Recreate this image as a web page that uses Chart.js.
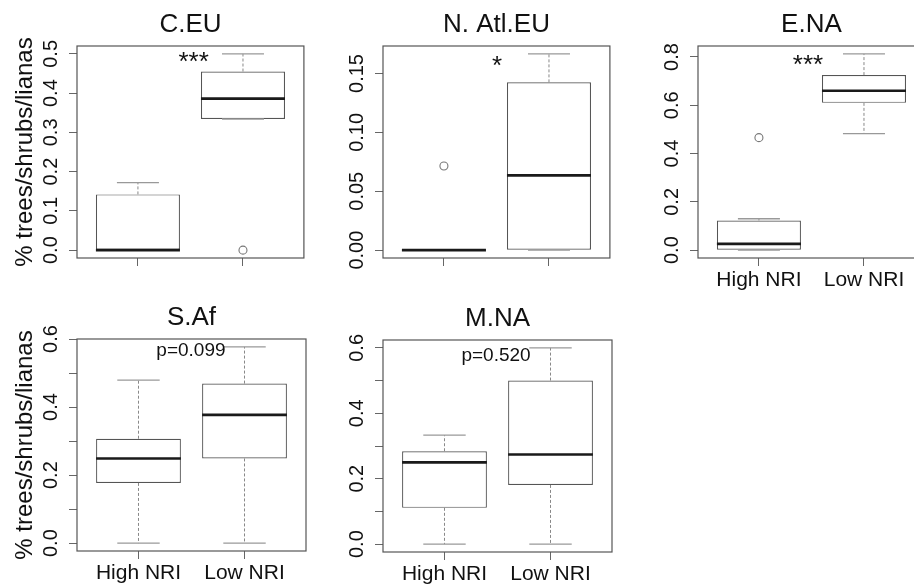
<!DOCTYPE html>
<html>
<head>
<meta charset="utf-8">
<script src="https://cdn.jsdelivr.net/npm/chart.js@4.4.1/dist/chart.umd.min.js"></script>
<style>
  html, body { margin: 0; padding: 0; background: #fff; overflow: hidden; }
  body { width: 914px; height: 586px; position: relative; }
  canvas { position: absolute; }
</style>
</head>
<body>
<canvas id="p1"></canvas>
<canvas id="p2"></canvas>
<canvas id="p3"></canvas>
<canvas id="p4"></canvas>
<canvas id="p5"></canvas>
<script>
// groups on the x axis
const groups = ['High NRI', 'Low NRI'];
const yAxisTitle = '% trees/shrubs/lianas';

// box stats per group: [lower whisker, Q1, median, Q3, upper whisker]
const ceuHigh = [0, 0, 0, 0.142, 0.172];
const ceuLow = [0.334, 0.334, 0.386, 0.455, 0.5];
const ceuOutliers = [[], [0]];

const natHigh = [0, 0, 0, 0, 0];
const natLow = [0, 0, 0.0635, 0.1425, 0.1667];
const natOutliers = [[0.0714], []];

const enaHigh = [0, 0, 0.026, 0.123, 0.130];
const enaLow = [0.483, 0.610, 0.660, 0.725, 0.813];
const enaOutliers = [[0.466], []];

const safHigh = [0, 0.177, 0.249, 0.307, 0.479];
const safLow = [0, 0.249, 0.377, 0.469, 0.577];
const safOutliers = [[], []];

const mnaHigh = [0, 0.111, 0.250, 0.284, 0.333];
const mnaLow = [0, 0.181, 0.274, 0.500, 0.600];
const mnaOutliers = [[], []];

// y ticks and their labels ('' = tick mark only)
const ceuTicks = [0, 0.1, 0.2, 0.3, 0.4, 0.5];
const ceuTickLabels = ['0.0', '0.1', '0.2', '0.3', '0.4', '0.5'];
const natTicks = [0, 0.05, 0.10, 0.15];
const natTickLabels = ['0.00', '0.05', '0.10', '0.15'];
const enaTicks = [0, 0.2, 0.4, 0.6, 0.8];
const enaTickLabels = ['0.0', '0.2', '0.4', '0.6', '0.8'];
const sixTicks = [0, 0.1, 0.2, 0.3, 0.4, 0.5, 0.6];
const sixTickLabels = ['0.0', '', '0.2', '', '0.4', '', '0.6'];

const FONT = "'Liberation Sans', Arial, Helvetica, sans-serif";
const AXIS_W = 77, TITLE_H = 46, X_H = 36, PLOT_W = 229, PLOT_H = 212, RIGHT_PAD = 3;
const BOX = 0.8, CAP = 0.4;

const panels = [
  { id: 'p1', title: 'C.EU', left: 77, top: 46, stats: [ceuHigh, ceuLow], outliers: ceuOutliers,
    yTicks: ceuTicks, yLabels: ceuTickLabels, xLabels: false, yTitle: true,
    note: '***', noteX: 1.53, noteY: 0.478, noteSize: 26 },
  { id: 'p2', title: 'N. Atl.EU', left: 383, top: 46, stats: [natHigh, natLow], outliers: natOutliers,
    yTicks: natTicks, yLabels: natTickLabels, xLabels: false, yTitle: false,
    note: '*', noteX: 1.505, noteY: 0.156, noteSize: 26 },
  { id: 'p3', title: 'E.NA', left: 698, top: 46, stats: [enaHigh, enaLow], outliers: enaOutliers,
    yTicks: enaTicks, yLabels: enaTickLabels, xLabels: true, yTitle: false,
    note: '***', noteX: 1.467, noteY: 0.765, noteSize: 26 },
  { id: 'p4', title: 'S.Af', left: 77, top: 339, stats: [safHigh, safLow], outliers: safOutliers,
    yTicks: sixTicks, yLabels: sixTickLabels, xLabels: true, yTitle: true,
    note: 'p=0.099', noteX: 1.495, noteY: 0.565, noteSize: 19 },
  { id: 'p5', title: 'M.NA', left: 383, top: 340, stats: [mnaHigh, mnaLow], outliers: mnaOutliers,
    yTicks: sixTicks, yLabels: sixTickLabels, xLabels: true, yTitle: false,
    note: 'p=0.520', noteX: 1.486, noteY: 0.576, noteSize: 19 }
];

// frame, rotated y tick labels and the significance note
const panelDecor = {
  id: 'panelDecor',
  afterDraw(chart, args, opts) {
    const { ctx, chartArea: a, scales: { x, y } } = chart;
    const cfg = opts.cfg;
    ctx.save();
    ctx.strokeStyle = '#555';
    ctx.lineWidth = 1.2;
    ctx.strokeRect(a.left, a.top, a.right - a.left, a.bottom - a.top);

    ctx.fillStyle = '#111';
    ctx.font = '20px ' + FONT;
    ctx.textAlign = 'center';
    ctx.textBaseline = 'alphabetic';
    cfg.yTicks.forEach((v, i) => {
      if (!cfg.yLabels[i]) return;
      ctx.save();
      ctx.translate(a.left - 20, y.getPixelForValue(v));
      ctx.rotate(-Math.PI / 2);
      ctx.fillText(cfg.yLabels[i], 0, 0);
      ctx.restore();
    });

    ctx.font = cfg.noteSize + 'px ' + FONT;
    ctx.textBaseline = 'middle';
    ctx.fillText(cfg.note, x.getPixelForValue(cfg.noteX), y.getPixelForValue(cfg.noteY));
    ctx.restore();
  }
};

function makePanel(cfg) {
  const canvas = document.getElementById(cfg.id);
  canvas.width = AXIS_W + PLOT_W + RIGHT_PAD;
  canvas.height = TITLE_H + PLOT_H + X_H;
  canvas.style.left = (cfg.left - AXIS_W) + 'px';
  canvas.style.top = (cfg.top - TITLE_H) + 'px';

  const all = cfg.stats.flat().concat(cfg.outliers.flat());
  const lo = Math.min(...all), hi = Math.max(...all);
  const pad = (hi - lo) * 0.04;

  const boxes = [], medians = [], whiskers = [], caps = [], outs = [];
  cfg.stats.forEach((s, i) => {
    const c = i + 1;
    boxes.push({ x: c, y: [s[1], s[3]] });
    medians.push({ x: c - BOX / 2, y: s[2] }, { x: c + BOX / 2, y: s[2] }, { x: c, y: null });
    whiskers.push({ x: c, y: s[3] }, { x: c, y: s[4] }, { x: c, y: null },
                  { x: c, y: s[1] }, { x: c, y: s[0] }, { x: c, y: null });
    caps.push({ x: c - CAP / 2, y: s[4] }, { x: c + CAP / 2, y: s[4] }, { x: c, y: null },
              { x: c - CAP / 2, y: s[0] }, { x: c + CAP / 2, y: s[0] }, { x: c, y: null });
    cfg.outliers[i].forEach(v => outs.push({ x: c, y: v }));
  });

  const line = { type: 'line', pointRadius: 0, fill: false, tension: 0, spanGaps: false };

  new Chart(canvas, {
    type: 'bar',
    data: {
      datasets: [
        { ...line, data: medians, borderColor: '#1a1a1a', borderWidth: 2.6 },
        { type: 'line', data: outs, showLine: false, pointRadius: 4, pointBorderWidth: 1.1,
          pointBorderColor: '#777', pointBackgroundColor: 'rgba(0,0,0,0)' },
        { ...line, data: caps, borderColor: '#999', borderWidth: 1.3 },
        { ...line, data: whiskers, borderColor: '#888', borderWidth: 1, borderDash: [3, 2] },
        { type: 'bar', data: boxes, backgroundColor: '#fff', borderColor: '#555', borderWidth: 1.2,
          borderSkipped: false, barPercentage: BOX, categoryPercentage: 1 }
      ]
    },
    options: {
      responsive: false,
      animation: false,
      layout: { padding: { left: 0, right: RIGHT_PAD, top: 0, bottom: 0 } },
      plugins: {
        legend: { display: false },
        tooltip: { enabled: false },
        title: {
          display: true, text: cfg.title, fullSize: false, color: '#111',
          font: { family: FONT, size: 26, weight: 'normal' },
          padding: { top: 9, bottom: TITLE_H - 9 - 26 * 1.2 }
        },
        panelDecor: { cfg }
      },
      scales: {
        x: {
          type: 'linear', min: 0.42, max: 2.58, offset: false,
          afterBuildTicks: s => { s.ticks = groups.map((g, i) => ({ value: i + 1 })); },
          afterFit: s => { s.height = X_H; },
          ticks: { display: cfg.xLabels, callback: v => groups[v - 1], autoSkip: false, maxRotation: 0,
                   padding: 2, color: '#111', font: { family: FONT, size: 21 } },
          grid: { drawOnChartArea: false, drawTicks: true, tickLength: 8, color: '#666', offset: false },
          border: { display: false }
        },
        y: {
          type: 'linear', min: lo - pad, max: hi + pad,
          afterBuildTicks: s => { s.ticks = cfg.yTicks.map(v => ({ value: v })); },
          afterFit: s => { s.width = AXIS_W; },
          ticks: { display: false },
          grid: { drawOnChartArea: false, drawTicks: true, tickLength: 8, color: '#666' },
          border: { display: false },
          title: { display: cfg.yTitle, text: yAxisTitle, color: '#111',
                   font: { family: FONT, size: 24 }, padding: { top: 10.5, bottom: 0 } }
        }
      }
    },
    plugins: [panelDecor]
  });
}

panels.forEach(makePanel);
</script>
</body>
</html>
